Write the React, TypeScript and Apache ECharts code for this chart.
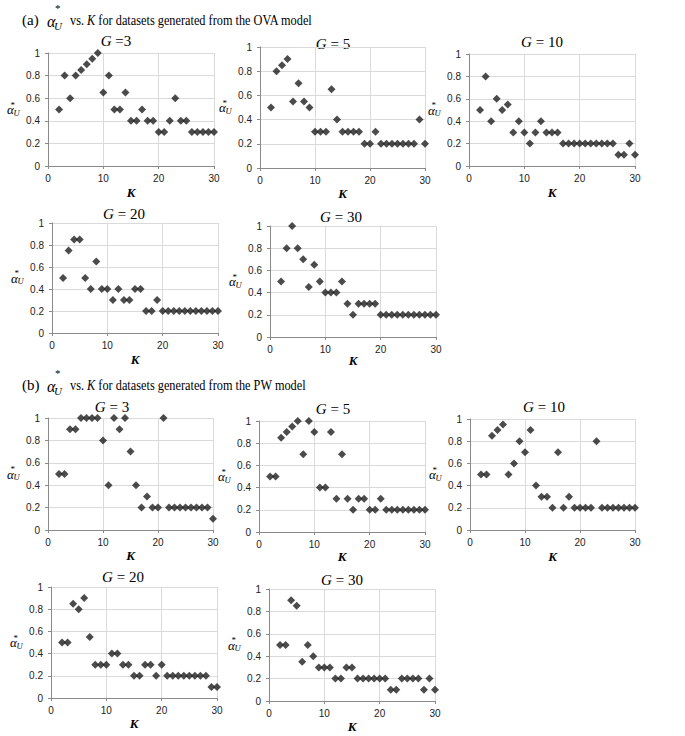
import React, { useEffect, useRef } from 'react';
import * as echarts from 'echarts';

// K values on the x axis
const K = [2, 3, 4, 5, 6, 7, 8, 9, 10, 11, 12, 13, 14, 15, 16, 17, 18, 19, 20, 21, 22, 23, 24, 25, 26, 27, 28, 29, 30];

// (a) OVA model
const ovaG3 = [0.5, 0.8, 0.6, 0.8, 0.85, 0.9, 0.95, 1.0, 0.65, 0.8, 0.5, 0.5, 0.65, 0.4, 0.4, 0.5, 0.4, 0.4, 0.3, 0.3, 0.4, 0.6, 0.4, 0.4, 0.3, 0.3, 0.3, 0.3, 0.3];
const ovaG5 = [0.5, 0.8, 0.85, 0.9, 0.55, 0.7, 0.55, 0.5, 0.3, 0.3, 0.3, 0.65, 0.4, 0.3, 0.3, 0.3, 0.3, 0.2, 0.2, 0.3, 0.2, 0.2, 0.2, 0.2, 0.2, 0.2, 0.2, 0.4, 0.2];
const ovaG10 = [0.5, 0.8, 0.4, 0.6, 0.5, 0.55, 0.3, 0.4, 0.3, 0.2, 0.3, 0.4, 0.3, 0.3, 0.3, 0.2, 0.2, 0.2, 0.2, 0.2, 0.2, 0.2, 0.2, 0.2, 0.2, 0.1, 0.1, 0.2, 0.1];
const ovaG20 = [0.5, 0.75, 0.85, 0.85, 0.5, 0.4, 0.65, 0.4, 0.4, 0.3, 0.4, 0.3, 0.3, 0.4, 0.4, 0.2, 0.2, 0.3, 0.2, 0.2, 0.2, 0.2, 0.2, 0.2, 0.2, 0.2, 0.2, 0.2, 0.2];
const ovaG30 = [0.5, 0.8, 1.0, 0.8, 0.7, 0.45, 0.65, 0.5, 0.4, 0.4, 0.4, 0.5, 0.3, 0.2, 0.3, 0.3, 0.3, 0.3, 0.2, 0.2, 0.2, 0.2, 0.2, 0.2, 0.2, 0.2, 0.2, 0.2, 0.2];

// (b) PW model
const pwG3 = [0.5, 0.5, 0.9, 0.9, 1.0, 1.0, 1.0, 1.0, 0.8, 0.4, 1.0, 0.9, 1.0, 0.7, 0.4, 0.2, 0.3, 0.2, 0.2, 1.0, 0.2, 0.2, 0.2, 0.2, 0.2, 0.2, 0.2, 0.2, 0.1];
const pwG5 = [0.5, 0.5, 0.85, 0.9, 0.95, 1.0, 0.7, 1.0, 0.9, 0.4, 0.4, 0.9, 0.3, 0.7, 0.3, 0.2, 0.3, 0.3, 0.2, 0.2, 0.3, 0.2, 0.2, 0.2, 0.2, 0.2, 0.2, 0.2, 0.2];
const pwG10 = [0.5, 0.5, 0.85, 0.9, 0.95, 0.5, 0.6, 0.8, 0.7, 0.9, 0.4, 0.3, 0.3, 0.2, 0.7, 0.2, 0.3, 0.2, 0.2, 0.2, 0.2, 0.8, 0.2, 0.2, 0.2, 0.2, 0.2, 0.2, 0.2];
const pwG20 = [0.5, 0.5, 0.85, 0.8, 0.9, 0.55, 0.3, 0.3, 0.3, 0.4, 0.4, 0.3, 0.3, 0.2, 0.2, 0.3, 0.3, 0.2, 0.3, 0.2, 0.2, 0.2, 0.2, 0.2, 0.2, 0.2, 0.2, 0.1, 0.1];
const pwG30 = [0.5, 0.5, 0.9, 0.85, 0.35, 0.5, 0.4, 0.3, 0.3, 0.3, 0.2, 0.2, 0.3, 0.3, 0.2, 0.2, 0.2, 0.2, 0.2, 0.2, 0.1, 0.1, 0.2, 0.2, 0.2, 0.2, 0.1, 0.2, 0.1];

const panelSeries = [ovaG3, ovaG5, ovaG10, ovaG20, ovaG30, pwG3, pwG5, pwG10, pwG20, pwG30];
const panelTitles = ['{g|G} =3', '{g|G} = 5', '{g|G} = 10', '{g|G} = 20', '{g|G} = 30', '{g|G} = 3', '{g|G} = 5', '{g|G} = 10', '{g|G} = 20', '{g|G} = 30'];
const headerTexts = [
  { tag: '(a)', rest: 'vs. {k|K} for datasets generated from the OVA model' },
  { tag: '(b)', rest: 'vs. {k|K} for datasets generated from the PW model' },
];

// layout (pixels)
const layout = [
  { left: 48, top: 53, width: 166, height: 113, tx: 116, ty: 41, ky: 192 },
  { left: 260, top: 47, width: 165, height: 121, tx: 333, ty: 44, ky: 193 },
  { left: 469, top: 54, width: 166, height: 112, tx: 542, ty: 42, ky: 192 },
  { left: 52, top: 223, width: 166, height: 110, tx: 124, ty: 214, ky: 359 },
  { left: 270, top: 226, width: 166, height: 111, tx: 341, ty: 217, ky: 360 },
  { left: 48, top: 418, width: 165, height: 112, tx: 112, ty: 407, ky: 555 },
  { left: 259, top: 421, width: 166, height: 111, tx: 333, ty: 409, ky: 556 },
  { left: 470, top: 419, width: 165, height: 111, tx: 544, ty: 407, ky: 556 },
  { left: 51, top: 587, width: 166, height: 111, tx: 123, ty: 577, ky: 723 },
  { left: 269, top: 589, width: 166, height: 112, tx: 342, ty: 580, ky: 726 },
];
const headerPos = [{ y: 20 }, { y: 385 }];

const SERIF = 'Liberation Serif';
const SANS = 'Liberation Sans';
const AXIS_COLOR = '#8a8a8a';
const GRID_COLOR = '#dadada';
const MARK_COLOR = '#1e1e1e';

function txt(x: number, y: number, text: string, size: number, extra: any = {}, elExtra: any = {}) {
  return {
    type: 'text',
    x,
    y,
    silent: true,
    ...elExtra,
    style: {
      text,
      x: 0,
      y: 0,
      fontSize: size,
      fontFamily: SERIF,
      fill: '#000',
      align: 'left',
      textAlign: 'left',
      verticalAlign: 'middle',
      textVerticalAlign: 'middle',
      ...extra,
    },
  };
}

function alphaLabel(x0: number, cy: number) {
  return [
    txt(x0, cy, 'α', 13, { fontStyle: 'italic' }),
    txt(x0 + 6.5, cy + 3, 'U', 8.5, { fontStyle: 'italic' }),
    txt(x0 + 3.5, cy - 5, '*', 9),
  ];
}

export default function App() {
  const ref = useRef<HTMLDivElement>(null);
  useEffect(() => {
    if (!ref.current) return;
    const chart = echarts.init(ref.current, null, { renderer: 'svg' });

    const grid = layout.map((l) => ({ left: l.left, top: l.top, width: l.width, height: l.height, containLabel: false }));
    const xAxis = layout.map((_, i) => ({
      gridIndex: i,
      type: 'value',
      min: 0,
      max: 30,
      interval: 10,
      axisLine: { show: true, lineStyle: { color: AXIS_COLOR, width: 1 } },
      axisTick: { show: true, length: 3, lineStyle: { color: AXIS_COLOR } },
      axisLabel: { fontSize: 10, fontFamily: SANS, color: '#222', margin: 7 },
      splitLine: { show: true, lineStyle: { color: GRID_COLOR, width: 1 } },
    }));
    const yAxis = layout.map((_, i) => ({
      gridIndex: i,
      type: 'value',
      min: 0,
      max: 1,
      interval: 0.2,
      axisLine: { show: true, lineStyle: { color: AXIS_COLOR, width: 1 } },
      axisTick: { show: true, length: 3, lineStyle: { color: AXIS_COLOR } },
      axisLabel: { fontSize: 10, fontFamily: SANS, color: '#222', margin: 8 },
      splitLine: { show: true, lineStyle: { color: GRID_COLOR, width: 1 } },
    }));
    const series = panelSeries.map((vals, i) => ({
      type: 'scatter',
      xAxisIndex: i,
      yAxisIndex: i,
      symbol: 'diamond',
      symbolSize: [8, 8],
      clip: false,
      itemStyle: { color: MARK_COLOR },
      data: K.map((k, j) => [k, vals[j]]),
    }));

    const graphics: any[] = [];
    headerTexts.forEach((h, i) => {
      const y = headerPos[i].y;
      graphics.push(txt(22, y, h.tag, 15));
      graphics.push(txt(47, y + 1, 'α', 16, { fontStyle: 'italic' }));
      graphics.push(txt(54, y + 5.5, 'U', 11, { fontStyle: 'italic' }));
      graphics.push(txt(55, y - 12, '*', 11));
      graphics.push(
        txt(70, y, h.rest, 15, {
          rich: { k: { fontStyle: 'italic', fontSize: 15, fontFamily: SERIF, fill: '#000' } },
        }, { scaleX: 0.82 })
      );
    });
    layout.forEach((l, i) => {
      graphics.push(
        txt(l.tx, l.ty, panelTitles[i], 15, {
          align: 'center',
          textAlign: 'center',
          rich: { g: { fontStyle: 'italic', fontSize: 15, fontFamily: SERIF, fill: '#000' } },
        })
      );
      graphics.push(
        txt(l.left + l.width / 2, l.ky, 'K', 13, {
          align: 'center',
          textAlign: 'center',
          fontStyle: 'italic',
          fontWeight: 'bold',
        })
      );
      graphics.push(...alphaLabel(l.left - 41, l.top + l.height / 2));
    });

    chart.setOption({
      animation: false,
      backgroundColor: '#fff',
      grid,
      xAxis,
      yAxis,
      series,
      graphic: { elements: graphics },
    } as any);

    return () => chart.dispose();
  }, []);

  return <div ref={ref} style={{ position: 'fixed', left: 0, top: 0, width: 685, height: 736 }} />;
}
